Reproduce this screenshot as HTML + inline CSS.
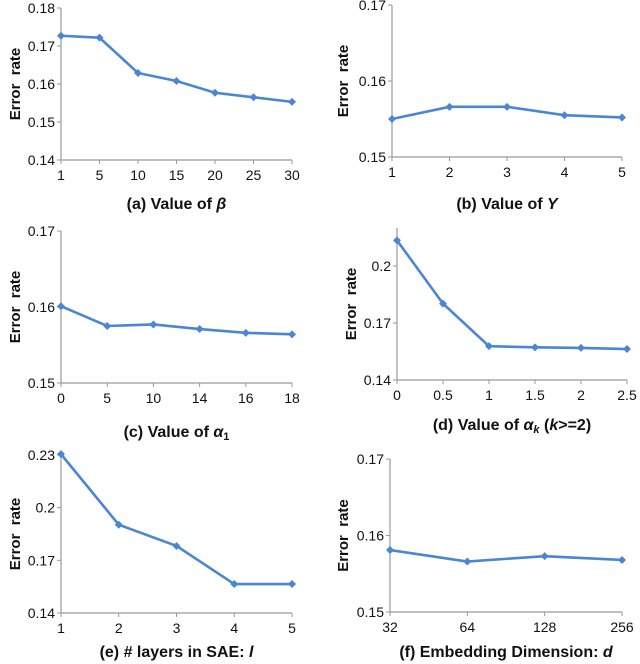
<!DOCTYPE html>
<html><head><meta charset="utf-8">
<style>
body{margin:0;background:#fff;width:640px;height:664px;overflow:hidden}
svg{display:block}
text{font-family:"Liberation Sans",Arial,sans-serif;fill:#111}
.tk{font-size:14px}
.cap{font-size:16px;font-weight:bold}
.yt{font-size:15px;font-weight:bold}
</style></head><body>
<svg id="c" width="640" height="664"></svg>
<script>
const catA=["1","5","10","15","20","25","30"];
const valA=[0.1727,0.1722,0.1629,0.1608,0.1577,0.1565,0.1553];
const tickA=[0.14,0.15,0.16,0.17,0.18];
const catB=["1","2","3","4","5"];
const valB=[0.1550,0.1566,0.1566,0.1555,0.1552];
const tickB=[0.15,0.16,0.17];
const catC=["0","5","10","14","16","18"];
const valC=[0.1601,0.1575,0.1577,0.1571,0.1566,0.1564];
const tickC=[0.15,0.16,0.17];
const catD=["0","0.5","1","1.5","2","2.5"];
const valD=[0.2135,0.1802,0.1578,0.1572,0.1569,0.1563];
const tickD=[0.14,0.17,0.2];
const catE=["1","2","3","4","5"];
const valE=[0.2305,0.1903,0.1782,0.1565,0.1565];
const tickE=[0.14,0.17,0.2,0.23];
const catF=["32","64","128","256"];
const valF=[0.1581,0.1566,0.1573,0.1568];
const tickF=[0.15,0.16,0.17];
const NS="http://www.w3.org/2000/svg";
const svg=document.getElementById('c');
function mk(t,a,p){const e=document.createElementNS(NS,t);for(const k in a)e.setAttribute(k,a[k]);(p||svg).appendChild(e);return e;}
function panel(id,cats,vals,ticks,x0,x1,yBot,yTop,vmin,vmax,axTop,cap,capY,ytX){
  const g=mk('g',{});
  
  
  const sy=v=>yBot-(v-vmin)/(vmax-vmin)*(yBot-yTop);
  const sx=i=>x0+i*(x1-x0)/(cats.length-1);
  const ya=mk('line',{x1:x0,y1:axTop,x2:x0,y2:yBot,stroke:'#999','stroke-width':1.2},g);
  
  const xa=mk('line',{x1:x0,y1:yBot,x2:x1,y2:yBot,stroke:'#999','stroke-width':1.2},g);
  
  ticks.forEach(t=>{const y=sy(t);mk('line',{x1:x0-4,y1:y,x2:x0,y2:y,stroke:'#999'},g);
    const tx=mk('text',{x:x0-6,y:y+5,'text-anchor':'end',class:'tk'},g);tx.textContent=String(t);
    });
  cats.forEach((c,i)=>{const x=sx(i);mk('line',{x1:x,y1:yBot,x2:x,y2:yBot+4,stroke:'#999'},g);
    const tx=mk('text',{x:x,y:yBot+20,'text-anchor':'middle',class:'tk'},g);tx.textContent=c;
    });
  const pts=vals.map((v,i)=>sx(i)+','+sy(v)).join(' ');
  const pl=mk('polyline',{points:pts,fill:'none',stroke:'#4a86d4','stroke-width':2.6},g);
  
  vals.forEach((v,i)=>{const x=sx(i),y=sy(v);
    const m=mk('polygon',{points:`${x},${y-4} ${x+4},${y} ${x},${y+4} ${x-4},${y}`,fill:'#4a86d4'},g);
    });
  const yt=mk('text',{x:ytX,y:(axTop+yBot)/2,'text-anchor':'middle',class:'yt',transform:`rotate(-90 ${ytX} ${(axTop+yBot)/2})`},g);
  yt.textContent='Error\u00a0\u00a0rate';
  
  const cp=mk('text',{x:(x0+x1)/2,y:capY,'text-anchor':'middle',class:'cap'},g);
  cp.innerHTML=cap;
  
}
panel('a',catA,valA,tickA,61,292,160,8,0.14,0.18,8,'(a) Value of <tspan font-style="italic">β</tspan>',209,20);
panel('b',catB,valB,tickB,392,622,157,5,0.15,0.17,5,'(b) Value of <tspan font-style="italic">Y</tspan>',209,348);
panel('c',catC,valC,tickC,61,292,383,231,0.15,0.17,231,'(c) Value of <tspan font-style="italic">α</tspan><tspan font-size="11" dy="3">1</tspan>',437,20);
panel('d',catD,valD,tickD,397,627,380,266,0.14,0.2,228,'(d) Value of <tspan font-style="italic">α</tspan><tspan font-size="11" font-style="italic" dy="3">k</tspan><tspan dy="-3"> (</tspan><tspan font-style="italic">k</tspan>&gt;=2)',430,356);
panel('e',catE,valE,tickE,61,292,613,455,0.14,0.23,455,'(e) # layers in SAE: <tspan font-style="italic">l</tspan>',657,20);
panel('f',catF,valF,tickF,390,622,612,459,0.15,0.17,459,'(f) Embedding Dimension: <tspan font-style="italic">d</tspan>',657,348);
</script>
</body></html>
